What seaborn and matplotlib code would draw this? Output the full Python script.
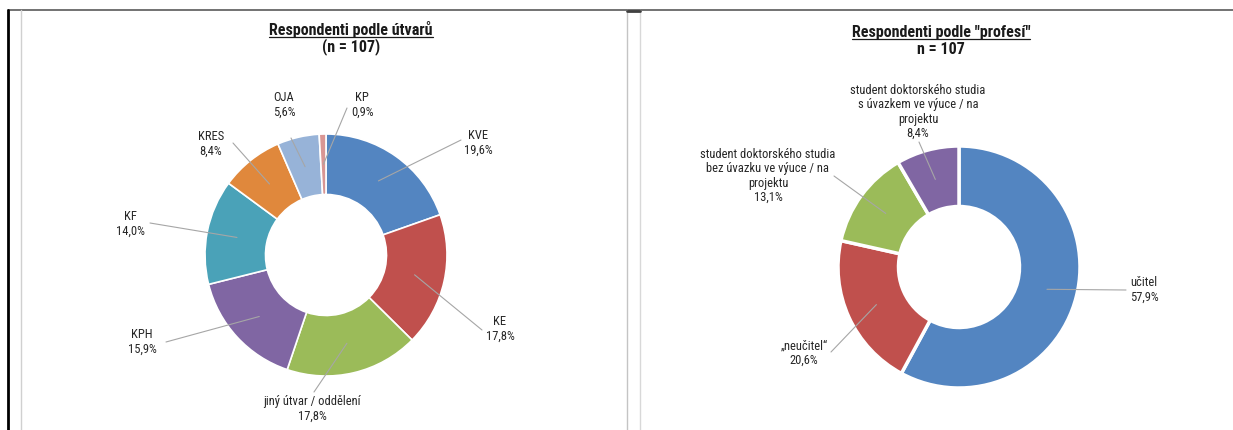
import numpy as np
import matplotlib
matplotlib.use("Agg")
import matplotlib.pyplot as plt
import seaborn as sns
from matplotlib.lines import Line2D
from matplotlib.transforms import IdentityTransform

# hodnoty (%)
utvary = ["KVE", "KE", "jiný útvar / oddělení", "KPH", "KF", "KRES", "OJA", "KP"]
utvary_pct = [19.6, 17.8, 17.8, 15.9, 14.0, 8.4, 5.6, 0.9]

profese = ["učitel", "„neučitel“",
           "student doktorského studia\nbez úvazku ve výuce / na\nprojektu",
           "student doktorského studia\ns úvazkem ve výuce / na\nprojektu"]
profese_pct = [57.9, 20.6, 13.1, 8.4]

n_resp = 107

barvy_utvary = ["#5385c1", "#c0504d", "#9bbb59", "#8066a3",
                "#4aa2b8", "#e0883c", "#97b3d8", "#d99694"]
barvy_profese = ["#5385c1", "#c0504d", "#9bbb59", "#8066a3"]

# rozvržení v pixelech (x zleva, y shora)
W, H = 1233, 430
stred_l, stred_r = (326, 255), (959, 267)
polomer = 121
popisky_l = [(478, 143), (500, 329), (312, 409), (142, 342),
             (130, 224), (211, 144), (284, 105), (362, 105)]
konce_l = [(461, 140), (482, 330), (314, 392), (166, 342),
           (150, 223), (233, 143), (291, 138), (347, 108)]
popisky_r = [(1144, 290), (804, 353), (768, 176), (918, 112)]
konce_r = [(1126, 290), (831, 352), (834, 176), (919, 142)]

sns.set_theme(style="white")
plt.rcParams["font.family"] = ["Roboto Condensed", "Liberation Sans", "DejaVu Sans"]
plt.rcParams["text.color"] = "#262626"

fig = plt.figure(figsize=(W / 100, H / 100), dpi=100)
fig.patch.set_facecolor("white")


def px(x, y):
    return x, H - y


def donut(ax, values, labels, colors, center, label_pos, leader_end, lw):
    cx, cy = px(*center)
    wedges, _ = ax.pie(values, colors=colors, startangle=90, counterclock=False,
                       radius=polomer, center=(cx, cy),
                       wedgeprops=dict(width=polomer * 0.5, edgecolor="white", linewidth=lw))
    for w, lab, val, pos, end in zip(wedges, labels, values, label_pos, leader_end):
        ang = np.deg2rad((w.theta1 + w.theta2) / 2)
        sx = cx + 0.75 * polomer * np.cos(ang)
        sy = cy + 0.75 * polomer * np.sin(ang)
        ex, ey = px(*end)
        ax.plot([sx, ex], [sy, ey], color="#a6a6a6", lw=0.8, zorder=5)
        tx, ty = px(*pos)
        txt = lab + "\n" + f"{val:.1f}".replace(".", ",") + "%"
        ax.text(tx, ty, txt, ha="center", va="center", multialignment="center",
                fontsize=9, linespacing=1.15, color="#262626")


ax_l = fig.add_axes([0, 0, 627 / W, 1])
donut(ax_l, utvary_pct, utvary, barvy_utvary, stred_l, popisky_l, konce_l, 1.2)
ax_l.set_xlim(0, 627)
ax_l.set_ylim(0, H)
ax_l.set_aspect("auto")
ax_l.axis("off")

ax_r = fig.add_axes([627 / W, 0, (W - 627) / W, 1])
donut(ax_r, profese_pct, profese, barvy_profese, stred_r, popisky_r, konce_r, 2.5)
ax_r.set_xlim(627, W)
ax_r.set_ylim(0, H)
ax_r.set_aspect("auto")
ax_r.axis("off")

# nadpisy
t1 = fig.text(351 / W, 1 - 29 / H, "Respondenti podle útvarů", ha="center", va="center",
              fontsize=11.5, fontweight="bold", color="#1a1a1a")
fig.text(351 / W, 1 - 47 / H, f"(n = {n_resp})", ha="center", va="center",
         fontsize=11.5, fontweight="bold", color="#1a1a1a")
t2 = fig.text(941 / W, 1 - 32 / H, 'Respondenti podle "profesí"', ha="center", va="center",
              fontsize=11.5, fontweight="bold", color="#1a1a1a")
fig.text(941 / W, 1 - 50 / H, f"n = {n_resp}", ha="center", va="center",
         fontsize=11.5, fontweight="bold", color="#1a1a1a")

fig.canvas.draw()
for t in (t1, t2):
    bb = t.get_window_extent()
    fig.add_artist(Line2D([bb.x0, bb.x1], [bb.y0 + 1, bb.y0 + 1], color="#1a1a1a",
                          lw=0.9, transform=IdentityTransform()))

# rámečky
ram = [((8, 10), (W, 10), "#5a5a5a", 1.2),
       ((8, 10), (8, H), "#000000", 2.0),
       ((21, 10), (21, H), "#d0d0d0", 1.0),
       ((627, 10), (627, H), "#c4c4c4", 1.0),
       ((640, 10), (640, H), "#d8d8d8", 1.0),
       ((627, 11), (640, 11), "#404040", 2.0)]
for a, b, c, lw in ram:
    fig.add_artist(Line2D([a[0], b[0]], [H - a[1], H - b[1]], color=c, lw=lw,
                          transform=IdentityTransform()))

fig.savefig("out.png", dpi=100, facecolor="white")
